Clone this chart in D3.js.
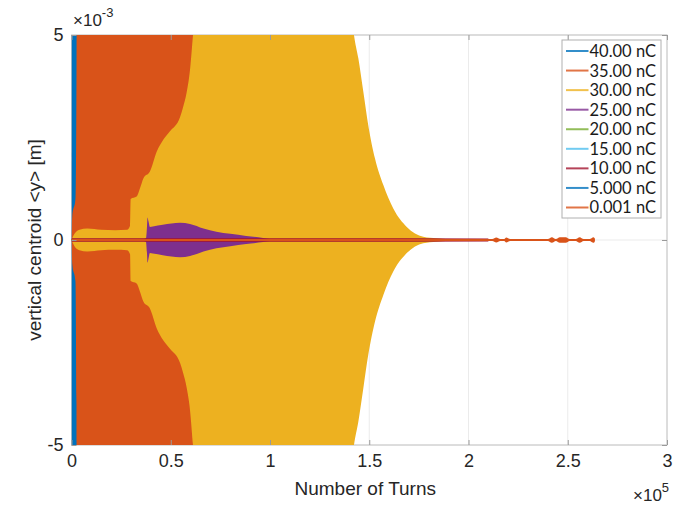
<!DOCTYPE html>
<html>
<head>
<meta charset="utf-8">
<script src="https://cdn.jsdelivr.net/npm/d3@7"></script>
<style>
  body { margin: 0; background: #fff; }
  .axis text { font-family: "Liberation Sans", Arial, sans-serif; font-size: 18px; fill: #262626; }
  .axis line { stroke: #9a9a9a; }
  .label { font-family: "Liberation Sans", Arial, sans-serif; fill: #262626; }
  .legend text { font-family: Lato, "Open Sans", sans-serif; font-size: 16.5px; fill: #1a1a1a; }
</style>
</head>
<body>
<div class="vis-chart"></div>
<script>
// envelopes of the vertical centroid, turns vs amplitude (x 10^-3 m)
const seriesNames = ["40.00 nC", "35.00 nC", "30.00 nC", "25.00 nC", "20.00 nC", "15.00 nC", "10.00 nC", "5.000 nC", "0.001 nC"];
const seriesColors = ["#0072BD", "#D95319", "#EDB120", "#7E2F8E", "#77AC30", "#4DBEEE", "#A2142F", "#0072BD", "#D95319"];

const turns40 = [0, 100, 2900, 3000];
const amp40 = [0, 7, 7, 0];

const turns35 = [0, 400, 2000, 2500, 2700, 61200, 61300];
const amp35 = [0, 0.6, 1.0, 4, 7, 7, 0];

const turns30 = [0, 1500, 4000, 8000, 15000, 22000, 28000, 29500, 29800, 32800, 34500, 36200, 39500, 42900, 46300, 49600, 54700, 56200, 58000, 59700, 61200, 63000, 140000, 142300, 144500, 147000, 149500, 152900, 157100, 162100, 168900, 177200, 184000, 190000, 195000];
const amp30 = [0, 0.15, 0.25, 0.28, 0.25, 0.24, 0.25, 0.35, 1.0, 1.06, 1.26, 1.5, 1.67, 2.15, 2.45, 2.65, 3.0, 3.24, 3.6, 4.15, 5.0, 6, 6, 5.0, 4.43, 3.62, 2.8, 1.99, 1.34, 0.77, 0.32, 0.08, 0.04, 0.02, 0];

const turns25 = [0, 35000, 37500, 38000, 38300, 38800, 39500, 41000, 46000, 54700, 59700, 66500, 73000, 80000, 88000, 96500, 101000, 110000, 120000];
const amp25 = [0, 0.01, 0.04, 0.3, 0.55, 0.45, 0.32, 0.33, 0.37, 0.42, 0.39, 0.28, 0.2, 0.15, 0.1, 0.05, 0.02, 0.01, 0];

const turns20 = [0, 90000];
const amp20 = [0.02, 0.02];

const turns15 = [0, 110000];
const amp15 = [0.02, 0.02];

const turns10 = [0, 120000, 210000];
const amp10 = [0.04, 0.04, 0.035];

const turns5 = [0, 150000];
const amp5 = [0.02, 0.02];

const turns001 = [0, 200000, 212000, 214000, 216000, 218000, 219000, 221000, 240000, 242000, 244000, 246000, 249000, 251000, 254000, 256000, 258000, 261000, 263000, 263700];
const amp001 = [0.025, 0.025, 0.025, 0.06, 0.025, 0.025, 0.06, 0.025, 0.025, 0.07, 0.025, 0.07, 0.07, 0.025, 0.025, 0.07, 0.025, 0.025, 0.07, 0.03];

const allTurns = [turns40, turns35, turns30, turns25, turns20, turns15, turns10, turns5, turns001];
const allAmps = [amp40, amp35, amp30, amp25, amp20, amp15, amp10, amp5, amp001];

const xTicks = [0, 50000, 100000, 150000, 200000, 250000, 300000];
const yTicks = [-5, 0, 5];

const draw = () => {
  const W = 685, H = 505;
  const plot = { left: 71.5, right: 667, top: 35, bottom: 445 };

  const svg = d3.select(".vis-chart").append("svg")
    .attr("width", W).attr("height", H);

  const x = d3.scaleLinear().domain([0, 300000]).range([plot.left, plot.right]);
  const y = d3.scaleLinear().domain([-5, 5]).range([plot.bottom, plot.top]);

  // grid
  svg.append("g").selectAll("line").data(xTicks).join("line")
    .attr("x1", d => x(d)).attr("x2", d => x(d))
    .attr("y1", plot.top).attr("y2", plot.bottom)
    .attr("stroke", "#ebebeb").attr("stroke-width", 1);
  svg.append("g").selectAll("line").data(yTicks).join("line")
    .attr("x1", plot.left).attr("x2", plot.right)
    .attr("y1", d => y(d)).attr("y2", d => y(d))
    .attr("stroke", "#ebebeb").attr("stroke-width", 1);

  // box
  svg.append("rect")
    .attr("x", plot.left).attr("y", plot.top)
    .attr("width", plot.right - plot.left).attr("height", plot.bottom - plot.top)
    .attr("fill", "none").attr("stroke", "#c4c4c4").attr("stroke-width", 1);

  svg.append("clipPath").attr("id", "clip")
    .append("rect")
    .attr("x", plot.left).attr("y", plot.top)
    .attr("width", plot.right - plot.left).attr("height", plot.bottom - plot.top);

  const area = d3.area()
    .curve(d3.curveMonotoneX)
    .x(d => x(d[0]))
    .y0(d => y(-d[1]))
    .y1(d => y(d[1]));

  const g = svg.append("g").attr("clip-path", "url(#clip)");
  allTurns.forEach((t, i) => {
    const pts = t.map((v, j) => [v, allAmps[i][j]]);
    g.append("path")
      .datum(pts)
      .attr("d", area)
      .attr("fill", seriesColors[i]);
  });

  // axes with inward ticks
  const fmtX = d => String(d / 100000);
  const fmtY = d => String(d);
  svg.append("g").attr("class", "axis")
    .attr("transform", `translate(0,${plot.bottom})`)
    .call(d3.axisBottom(x).tickValues(xTicks).tickFormat(fmtX).tickSize(-5).tickPadding(9))
    .call(a => a.select(".domain").remove());
  svg.append("g").attr("class", "axis")
    .attr("transform", `translate(0,${plot.top})`)
    .call(d3.axisTop(x).tickValues(xTicks).tickFormat("").tickSize(-5))
    .call(a => a.select(".domain").remove());
  svg.append("g").attr("class", "axis")
    .attr("transform", `translate(${plot.left},0)`)
    .call(d3.axisLeft(y).tickValues(yTicks).tickFormat(fmtY).tickSize(-5).tickPadding(8))
    .call(a => a.select(".domain").remove());
  svg.append("g").attr("class", "axis")
    .attr("transform", `translate(${plot.right},0)`)
    .call(d3.axisRight(y).tickValues(yTicks).tickFormat("").tickSize(-5))
    .call(a => a.select(".domain").remove());

  // axis titles
  svg.append("text").attr("class", "label")
    .attr("x", (plot.left + plot.right) / 2 - 4).attr("y", 495)
    .attr("text-anchor", "middle").attr("font-size", "19px")
    .text("Number of Turns");
  svg.append("text").attr("class", "label")
    .attr("transform", "translate(41,240) rotate(-90)")
    .attr("text-anchor", "middle").attr("font-size", "19px")
    .text("vertical centroid <y> [m]");

  // exponent annotations
  const expY = svg.append("text").attr("class", "label")
    .attr("x", 73).attr("y", 26).attr("font-size", "17px");
  expY.append("tspan").text("\u00d710");
  expY.append("tspan").attr("dy", -9).attr("font-size", "13px").text("-3");

  const expX = svg.append("text").attr("class", "label")
    .attr("x", 633).attr("y", 501).attr("font-size", "17px");
  expX.append("tspan").text("\u00d710");
  expX.append("tspan").attr("dy", -9).attr("font-size", "13px").text("5");

  // legend
  const lg = svg.append("g").attr("class", "legend");
  lg.append("rect")
    .attr("x", 562).attr("y", 40).attr("width", 99).attr("height", 178)
    .attr("fill", "#fff").attr("stroke", "#b0b0b0").attr("stroke-width", 1);
  const rowY = d3.scaleLinear().domain([0, seriesNames.length - 1]).range([51, 207.5]);
  const rows = lg.selectAll(".row").data(seriesNames).join("g")
    .attr("class", "row")
    .attr("transform", (d, i) => `translate(0,${rowY(i)})`);
  rows.append("line")
    .attr("x1", 566).attr("x2", 588.5)
    .attr("stroke", (d, i) => seriesColors[i])
    .attr("stroke-opacity", 0.8)
    .attr("stroke-width", 2);
  rows.append("text")
    .attr("x", 589.5).attr("dy", "0.36em")
    .text(d => d);
};

draw();
</script>
</body>
</html>
